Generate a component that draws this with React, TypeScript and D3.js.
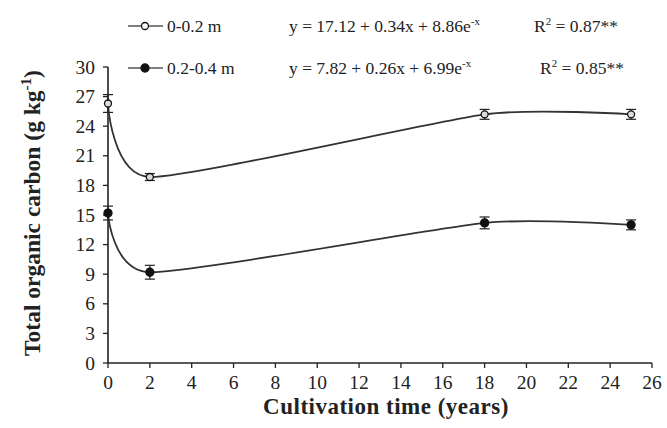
import React from "react";
import * as d3 from "d3";

const years = [0, 2, 18, 25];
const soc0020 = [26.3, 18.85, 25.2, 25.2];
const soc2040 = [15.2, 9.2, 14.2, 14.0];
const err0020 = [0.9, 0.35, 0.5, 0.5];
const err2040 = [0.7, 0.7, 0.6, 0.5];
const xTicks = [0, 2, 4, 6, 8, 10, 12, 14, 16, 18, 20, 22, 24, 26];
const yTicks = [0, 3, 6, 9, 12, 15, 18, 21, 24, 27, 30];
const legendLabels = ["0-0.2 m", "0.2-0.4 m"];
const equations = ["y = 17.12 + 0.34x + 8.86e", "y = 7.82 + 0.26x + 6.99e"];
const r2Values = ["0.87**", "0.85**"];

const W = 667;
const H = 428;
const ink = "#222";
const serif = "'Liberation Serif', 'Times New Roman', serif";

export default function App() {
  const x = d3.scaleLinear().domain([0, 26]).range([108, 652]);
  const y = d3.scaleLinear().domain([0, 30]).range([363, 67]);
  const line = d3
    .line<[number, number]>()
    .x((d) => x(d[0]))
    .y((d) => y(d[1]))
    .curve(d3.curveCardinal.tension(0.4));

  const series = [
    { vals: soc0020, errs: err0020, open: true },
    { vals: soc2040, errs: err2040, open: false },
  ];
  const legendY = [26, 68];
  const eqX = [289, 289];
  const rX = [534, 540];

  return (
    <svg width={W} height={H} style={{ position: "absolute", left: 0, top: 0, background: "#fff" }} fontFamily={serif}>
      <rect x={0} y={0} width={W} height={H} fill="#fff" />
      {/* axes */}
      <line x1={x(0)} x2={x(0)} y1={y(0)} y2={y(30)} stroke={ink} strokeWidth={1.6} />
      <line x1={x(0)} x2={x(26)} y1={y(0)} y2={y(0)} stroke={ink} strokeWidth={1.6} />
      {yTicks.map((t) => (
        <g key={"y" + t}>
          <line x1={x(0) - 5} x2={x(0)} y1={y(t)} y2={y(t)} stroke={ink} strokeWidth={1.3} />
          <text x={95} y={y(t)} dy="0.34em" textAnchor="end" fontSize={19.5} fill={ink}>
            {t}
          </text>
        </g>
      ))}
      {xTicks.map((t) => (
        <g key={"x" + t}>
          <line x1={x(t)} x2={x(t)} y1={y(0)} y2={y(0) + 5} stroke={ink} strokeWidth={1.3} />
          <text x={x(t)} y={389} textAnchor="middle" fontSize={19.5} fill={ink}>
            {t}
          </text>
        </g>
      ))}
      <text x={386} y={414} textAnchor="middle" fontSize={23} fontWeight="bold" fill={ink} letterSpacing={0.5}>
        Cultivation time (years)
      </text>
      <text
        transform={`translate(40,213) rotate(-90)`}
        textAnchor="middle"
        fontSize={23.5}
        fontWeight="bold"
        fill={ink}
      >
        Total organic carbon (g kg
        <tspan dy={-9} fontSize={15}>-1</tspan>
        <tspan dy={9}>)</tspan>
      </text>

      {/* series */}
      {series.map((s, i) => {
        const pts = years.map((yr, j) => [yr, s.vals[j]] as [number, number]);
        return (
          <g key={"s" + i}>
            <path d={line(pts) || ""} fill="none" stroke="#333" strokeWidth={1.8} />
            {years.map((yr, j) => (
              <g key={j}>
                <line x1={x(yr)} x2={x(yr)} y1={y(s.vals[j] - s.errs[j])} y2={y(s.vals[j] + s.errs[j])} stroke={ink} strokeWidth={1.2} />
                <line x1={x(yr) - 5} x2={x(yr) + 5} y1={y(s.vals[j] + s.errs[j])} y2={y(s.vals[j] + s.errs[j])} stroke={ink} strokeWidth={1.2} />
                <line x1={x(yr) - 5} x2={x(yr) + 5} y1={y(s.vals[j] - s.errs[j])} y2={y(s.vals[j] - s.errs[j])} stroke={ink} strokeWidth={1.2} />
                <circle cx={x(yr)} cy={y(s.vals[j])} r={s.open ? 3.5 : 4} fill={s.open ? "#ddd" : "#111"} stroke="#111" strokeWidth={1.3} />
              </g>
            ))}
          </g>
        );
      })}

      {/* legend */}
      {series.map((s, i) => (
        <g key={"l" + i}>
          <line x1={128} x2={163} y1={legendY[i]} y2={legendY[i]} stroke="#555" strokeWidth={1.6} />
          <circle cx={145} cy={legendY[i]} r={s.open ? 3.5 : 4} fill={s.open ? "#fff" : "#111"} stroke="#111" strokeWidth={1.3} />
          <text x={167} y={legendY[i]} dy="0.34em" fontSize={17.5} fill={ink}>
            {legendLabels[i]}
          </text>
          <text x={eqX[i]} y={legendY[i]} dy="0.34em" fontSize={17.5} fill={ink}>
            {equations[i]}
            <tspan dy={-7} fontSize={11}>-x</tspan>
          </text>
          <text x={rX[i]} y={legendY[i]} dy="0.34em" fontSize={17.5} fill={ink}>
            R<tspan dy={-7} fontSize={11}>2</tspan>
            <tspan dy={7}> = {r2Values[i]}</tspan>
          </text>
        </g>
      ))}
    </svg>
  );
}
